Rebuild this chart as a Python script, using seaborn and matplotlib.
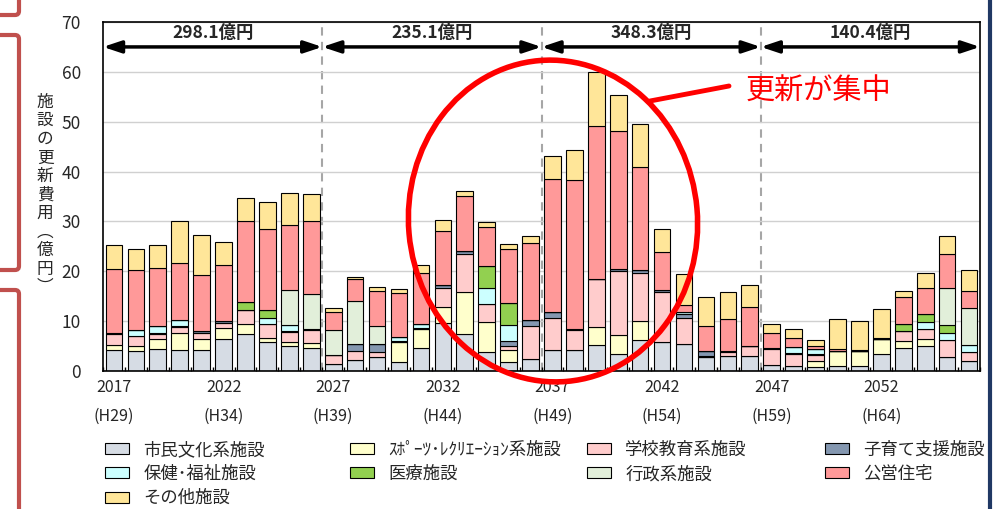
import numpy as np
import pandas as pd
import seaborn as sns
import matplotlib.pyplot as plt
from matplotlib.patches import Ellipse, Rectangle, FancyBboxPatch
from matplotlib.lines import Line2D
from matplotlib.transforms import IdentityTransform

# 年度 (2017 = H29)
years = list(range(2017, 2057))

categories = ["市民文化系施設", "ｽﾎﾟｰﾂ･ﾚｸﾘｴｰｼｮﾝ系施設", "学校教育系施設", "子育て支援施設",
              "保健･福祉施設", "医療施設", "行政系施設", "公営住宅", "その他施設"]
colors = ["#D6DCE4", "#FFFFCC", "#FFCCCC", "#8497B0",
          "#CCFFFF", "#92D050", "#E2EFDA", "#FF9999", "#FFE699"]

# 更新費用 (億円), 2017-2056
shimin = [4.3, 4.0, 4.4, 4.3, 4.3, 6.5, 7.5, 5.8, 5.0, 4.7,
          1.5, 2.3, 2.8, 1.9, 4.6, 9.7, 7.4, 3.8, 1.8, 2.5,
          4.3, 4.2, 5.2, 3.5, 6.3, 5.8, 5.4, 2.8, 3.0, 3.0,
          1.3, 1.1, 0.9, 1.1, 1.1, 3.4, 4.6, 5.0, 2.9, 2.1]
sports = [1.0, 1.0, 2.0, 3.4, 2.2, 2.1, 2.0, 0.9, 0.9, 1.0,
          0.0, 0.0, 0.0, 4.0, 3.9, 3.1, 8.5, 6.0, 2.4, 0.0,
          0.0, 0.0, 3.7, 3.7, 3.8, 0.0, 0.0, 0.0, 0.0, 0.0,
          0.0, 0.0, 1.2, 2.9, 2.9, 3.0, 1.4, 1.4, 0.0, 0.0]
gakko = [2.1, 2.0, 1.1, 1.2, 1.2, 1.0, 2.7, 2.7, 2.0, 2.6,
         1.8, 1.7, 1.1, 0.0, 0.0, 3.8, 7.6, 3.6, 0.8, 6.5,
         6.4, 4.0, 9.5, 12.9, 9.5, 10.0, 5.3, 0.3, 0.8, 2.1,
         3.1, 2.3, 1.1, 0.0, 0.0, 0.0, 2.0, 2.0, 3.3, 1.7]
kosodate = [0.3, 0.0, 0.2, 0.1, 0.4, 0.5, 0.1, 0.1, 0.2, 0.2,
            0.0, 1.4, 1.5, 0.1, 0.1, 0.6, 0.6, 0.0, 1.0, 1.3,
            1.2, 0.2, 0.0, 0.3, 0.7, 0.4, 0.8, 0.9, 0.3, 0.0,
            0.2, 0.3, 0.2, 0.0, 0.0, 0.0, 0.0, 0.0, 0.0, 0.0]
hoken = [0.0, 1.3, 1.4, 1.2, 0.0, 0.0, 0.0, 1.2, 1.2, 0.0,
         0.0, 0.0, 0.0, 0.8, 0.9, 0.0, 0.0, 3.3, 3.3, 0.0,
         0.0, 0.0, 0.0, 0.0, 0.0, 0.0, 0.3, 0.0, 0.0, 0.0,
         0.0, 1.1, 1.0, 0.0, 0.0, 0.0, 0.0, 1.5, 1.5, 1.5]
iryo = [0.0, 0.0, 0.0, 0.0, 0.0, 0.0, 1.6, 1.6, 0.0, 0.0,
        0.0, 0.0, 0.0, 0.0, 0.0, 0.0, 0.0, 4.4, 4.3, 0.0,
        0.0, 0.0, 0.0, 0.0, 0.0, 0.0, 0.0, 0.0, 0.0, 0.0,
        0.0, 0.0, 0.0, 0.0, 0.0, 0.0, 1.5, 1.6, 1.6, 0.0]
gyosei = [0.0, 0.0, 0.0, 0.0, 0.0, 0.0, 0.0, 0.0, 6.9, 6.9,
          4.9, 8.6, 3.7, 0.0, 0.0, 0.0, 0.0, 0.0, 0.0, 0.0,
          0.0, 0.0, 0.0, 0.0, 0.0, 0.0, 0.0, 0.0, 0.0, 0.0,
          0.0, 0.0, 0.0, 0.0, 0.0, 0.0, 0.0, 0.0, 7.3, 7.3]
koei = [12.7, 12.0, 11.5, 11.5, 11.2, 11.2, 16.2, 16.1, 13.1, 14.7,
        3.7, 4.5, 7.0, 8.8, 10.1, 10.9, 11.1, 7.8, 10.8, 15.3,
        26.6, 30.0, 30.8, 27.7, 20.6, 7.7, 1.4, 5.1, 6.4, 7.7,
        3.1, 1.8, 0.7, 0.4, 0.2, 0.2, 5.3, 5.2, 6.8, 3.5]
sonota = [4.8, 4.1, 4.7, 8.4, 7.9, 4.6, 4.5, 5.4, 6.5, 5.4,
          0.8, 0.4, 0.8, 0.9, 1.7, 2.2, 1.0, 1.0, 1.1, 1.4,
          4.7, 6.0, 10.7, 7.2, 8.6, 4.6, 6.3, 5.7, 5.3, 4.4,
          1.8, 1.9, 1.2, 6.1, 5.8, 5.9, 1.2, 2.9, 3.6, 4.1]

# 10年ごとの合計
period_labels = ["298.1億円", "235.1億円", "348.3億円", "140.4億円"]
label_years = [2017, 2022, 2027, 2032, 2037, 2042, 2047, 2052]

series = [shimin, sports, gakko, kosodate, hoken, iryo, gyosei, koei, sonota]
rows = []
for cat, vals in zip(categories, series):
    for y, v in zip(years, vals):
        rows.append({"year": y, "category": cat, "cost": v})
df = pd.DataFrame(rows)

sns.set_theme(style="white")
plt.rcParams["font.family"] = ["Noto Sans CJK JP", "DejaVu Sans"]

W, H = 995, 509
fig = plt.figure(figsize=(W / 100, H / 100), dpi=100)
ax = fig.add_axes([103 / W, 1 - 371 / H, 877 / W, 349 / H])

palette = dict(zip(categories, colors))
# seaborn stacks the first hue level on top, so reverse the order
sns.histplot(data=df, x="year", weights="cost", hue="category",
             hue_order=categories[::-1], palette=palette, multiple="stack",
             discrete=True, shrink=0.76, edgecolor="black", linewidth=0.8,
             alpha=1, legend=False, ax=ax)

ax.set_xlim(2016.5, 2056.5)
ax.set_ylim(0, 70)
ax.set_xlabel("")
ax.set_ylabel("")
ax.set_yticks(range(0, 71, 10))
ax.yaxis.grid(True, color="#D0D0D0", linewidth=1)
ax.set_axisbelow(True)
ax.set_xticks(label_years)
ax.set_xticklabels([f"{y}\n(H{y - 1988})" for y in label_years], linespacing=1.9)
ax.set_xticks(np.arange(2016.5, 2057, 1), minor=True)
ax.tick_params(axis="x", which="major", length=0, pad=6, labelsize=11.5)
ax.tick_params(axis="x", which="minor", direction="in", length=3, bottom=True, color="black")
ax.tick_params(axis="y", length=0, pad=16, labelsize=12.5)
for sp in ax.spines.values():
    sp.set_color("black")
    sp.set_linewidth(1.2)

# 期間区切り
for xb in [2026.5, 2036.5, 2046.5]:
    ax.axvline(xb, color="#A6A6A6", linestyle=(0, (4, 3)), linewidth=1.5, zorder=0.5)

starts = [2016.5, 2026.5, 2036.5, 2046.5]
for x0, lab in zip(starts, period_labels):
    ax.annotate("", xy=(x0 + 10, 65), xytext=(x0, 65),
                arrowprops=dict(arrowstyle="<|-|>,head_length=0.9,head_width=0.3",
                                color="black", lw=2.5, shrinkA=0, shrinkB=0))
    ax.text(x0 + 5, 67.7, lab, ha="center", va="center", fontsize=12.5, fontweight="bold")

# 縦書きの軸ラベル
fig.text(45 / W, 1 - 195 / H, "\n".join("施設の更新費用︵億円︶"), ha="center", va="center",
         fontsize=12, linespacing=1.12)

# 強調の楕円と注記
ident = IdentityTransform()
ell = Ellipse((553, H - 221), 289, 322, angle=5, fill=False, edgecolor="#FF0000",
              linewidth=4, transform=ident)
fig.add_artist(ell)
fig.add_artist(Line2D([650, 729], [H - 101, H - 86], color="#FF0000", linewidth=3.5,
                      transform=ident))
fig.text(746 / W, 1 - 92 / H, "更新が集中", color="#FF0000", fontsize=21, ha="left", va="center")

# 凡例 (4列)
handles = [Rectangle((0, 0), 1, 1, facecolor=c, edgecolor="black", linewidth=0.8) for c in colors]
col_idx = [[0, 4, 8], [1, 5], [2, 6], [3, 7]]
col_x = [105, 350, 587, 825]
for idx, x in zip(col_idx, col_x):
    fig.legend([handles[i] for i in idx], [categories[i] for i in idx],
               loc="upper left", bbox_to_anchor=(x / W, 1 - 441 / H), frameon=False,
               fontsize=12.5, handlelength=1.4, handleheight=0.6, handletextpad=0.8,
               labelspacing=0.35, borderpad=0, borderaxespad=0)

# 周囲の枠 (スライドの一部)
for y0, y1 in [(-30, 15), (35, 270), (290, 540)]:
    fig.add_artist(FancyBboxPatch((-30, H - y1), 49, y1 - y0, boxstyle="round,pad=0,rounding_size=4",
                                  fill=False, edgecolor="#C0504D", linewidth=3, transform=ident))
fig.add_artist(Line2D([990, 990], [0, H], color="#203864", linewidth=3, transform=ident))

fig.savefig("out.png", dpi=100)
